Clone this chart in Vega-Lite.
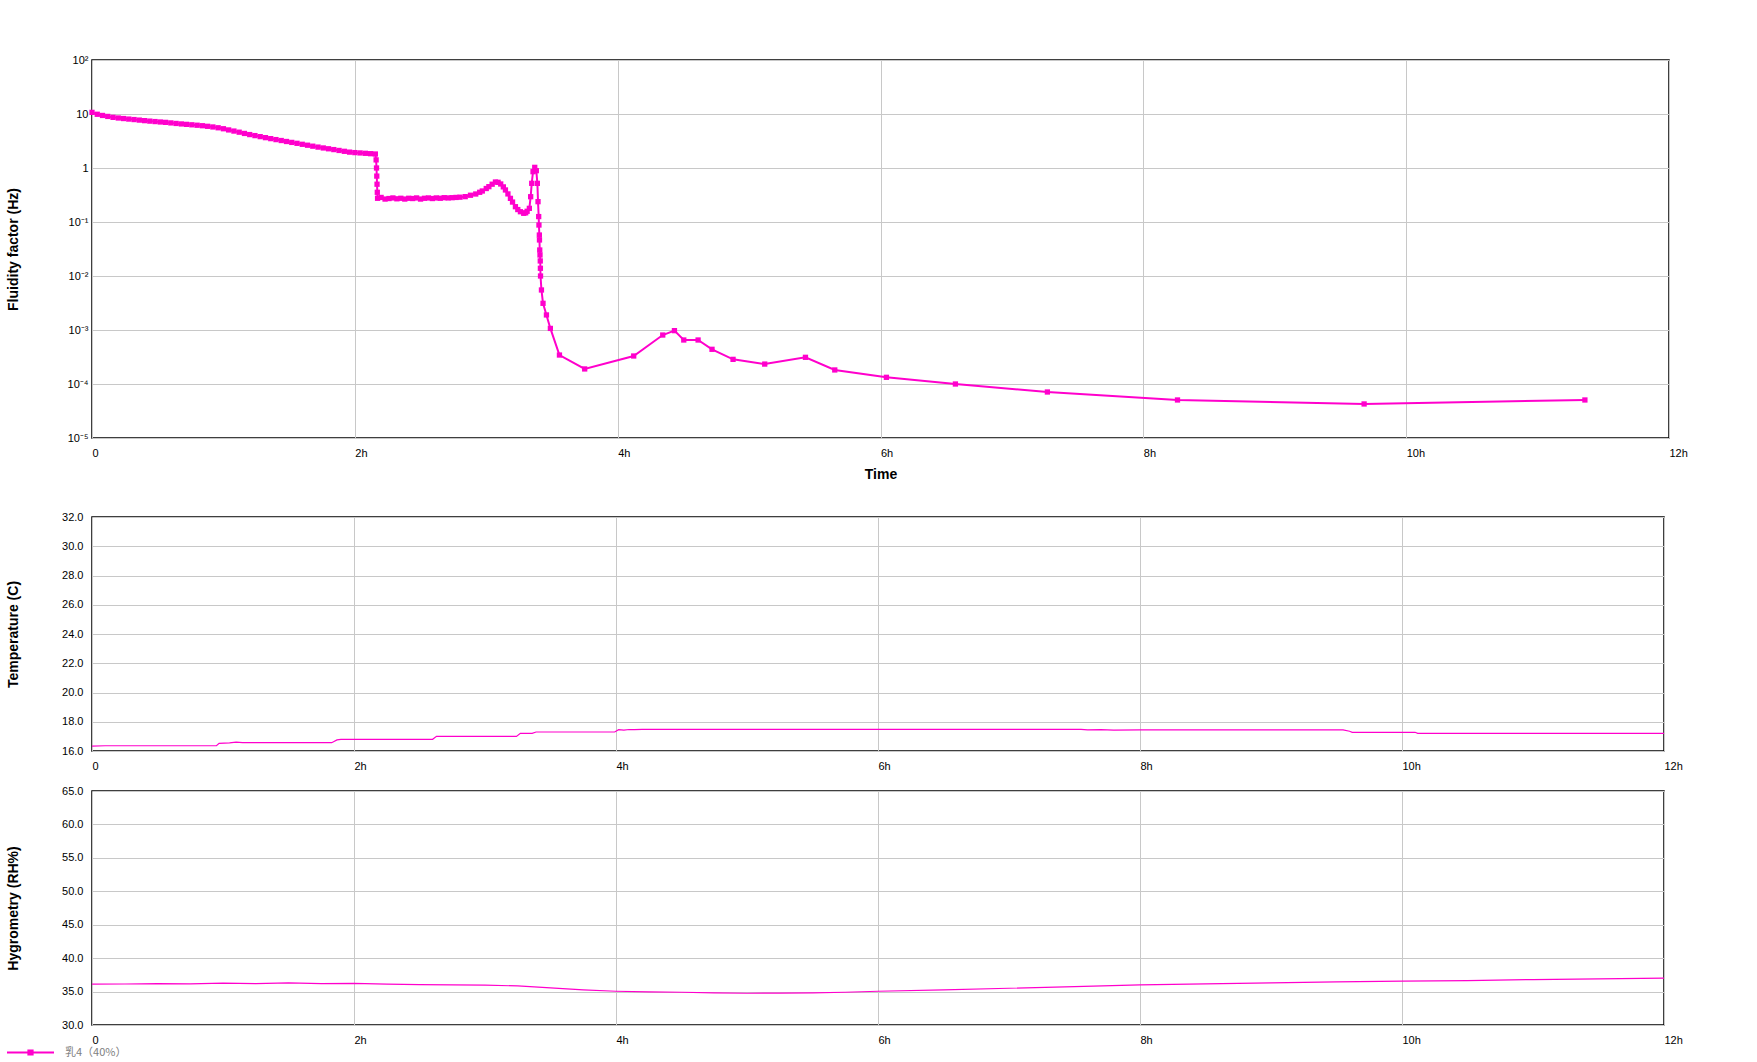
{
  "$schema": "https://vega.github.io/schema/vega-lite/v6.json",
  "padding": {"left": 5, "top": 53, "right": 5, "bottom": 5},
  "background": "white",
  "config": {
    "view": {"stroke": "#000000", "strokeWidth": 1.5},
    "axis": {
      "labelFont": "Liberation Sans", "labelFontSize": 11, "labelColor": "#000000",
      "titleFont": "Liberation Sans", "titleFontSize": 14, "titleFontWeight": "bold", "titleColor": "#000000",
      "gridColor": "#c8c8c8", "gridWidth": 1, "gridOpacity": 1,
      "ticks": false, "domain": false, "labelFlush": false, "labelOverlap": false
    }
  },
  "datasets": {
    "fluid": [
      {"t":0,"v":10.72},{"t":0.04,"v":9.886},{"t":0.08,"v":9.397},{"t":0.12,"v":9.016},{"t":0.16,"v":8.670},{"t":0.20,"v":8.433},{"t":0.24,"v":8.241},{"t":0.28,"v":8.054},{"t":0.32,"v":7.889},{"t":0.36,"v":7.709},{"t":0.40,"v":7.534},{"t":0.44,"v":7.379},{"t":0.48,"v":7.244},{"t":0.52,"v":7.112},{"t":0.56,"v":6.998},{"t":0.60,"v":6.839},{"t":0.64,"v":6.683},{"t":0.68,"v":6.546},{"t":0.72,"v":6.427},{"t":0.76,"v":6.310},{"t":0.80,"v":6.194},{"t":0.84,"v":6.067},{"t":0.88,"v":5.916},{"t":0.92,"v":5.754},{"t":0.96,"v":5.559},{"t":1.00,"v":5.333},{"t":1.04,"v":5.070},{"t":1.08,"v":4.831},{"t":1.12,"v":4.603},{"t":1.16,"v":4.365},{"t":1.20,"v":4.159},{"t":1.24,"v":3.981},{"t":1.28,"v":3.811},{"t":1.32,"v":3.648},{"t":1.36,"v":3.499},{"t":1.40,"v":3.357},{"t":1.44,"v":3.228},{"t":1.48,"v":3.097},{"t":1.52,"v":2.979},{"t":1.56,"v":2.864},{"t":1.60,"v":2.748},{"t":1.64,"v":2.642},{"t":1.68,"v":2.535},{"t":1.72,"v":2.438},{"t":1.76,"v":2.350},{"t":1.80,"v":2.270},{"t":1.84,"v":2.193},{"t":1.88,"v":2.113},{"t":1.92,"v":2.037},{"t":1.96,"v":1.968},{"t":2.00,"v":1.928},{"t":2.04,"v":1.901},{"t":2.08,"v":1.871},{"t":2.12,"v":1.841},{"t":2.156,"v":1.816},
      {"t":2.162,"v":1.413},{"t":2.165,"v":1.0},{"t":2.167,"v":0.708},{"t":2.169,"v":0.501},{"t":2.171,"v":0.355},{"t":2.173,"v":0.275},
      {"t":2.20,"v":0.285},{"t":2.23,"v":0.266},{"t":2.26,"v":0.272},{"t":2.29,"v":0.279},{"t":2.32,"v":0.269},{"t":2.35,"v":0.275},{"t":2.38,"v":0.266},{"t":2.41,"v":0.275},{"t":2.44,"v":0.272},{"t":2.47,"v":0.279},{"t":2.50,"v":0.266},{"t":2.53,"v":0.275},{"t":2.56,"v":0.279},{"t":2.59,"v":0.272},{"t":2.62,"v":0.279},{"t":2.65,"v":0.275},{"t":2.68,"v":0.282},{"t":2.71,"v":0.279},{"t":2.74,"v":0.282},{"t":2.77,"v":0.285},{"t":2.80,"v":0.288},{"t":2.84,"v":0.295},{"t":2.88,"v":0.313},{"t":2.92,"v":0.330},{"t":2.95,"v":0.355},{"t":2.97,"v":0.375},{"t":3.00,"v":0.417},{"t":3.02,"v":0.451},{"t":3.045,"v":0.501},{"t":3.07,"v":0.550},{"t":3.09,"v":0.543},{"t":3.11,"v":0.506},{"t":3.13,"v":0.447},{"t":3.146,"v":0.392},{"t":3.165,"v":0.331},{"t":3.184,"v":0.274},{"t":3.20,"v":0.234},{"t":3.222,"v":0.192},{"t":3.24,"v":0.170},{"t":3.26,"v":0.155},{"t":3.285,"v":0.145},{"t":3.30,"v":0.148},{"t":3.311,"v":0.158},{"t":3.328,"v":0.179},{"t":3.338,"v":0.294},{"t":3.346,"v":0.520},{"t":3.356,"v":0.855},{"t":3.369,"v":1.028},{"t":3.381,"v":0.893},{"t":3.389,"v":0.520},{"t":3.394,"v":0.238},{"t":3.399,"v":0.126},{"t":3.401,"v":0.0879},{"t":3.404,"v":0.0574},{"t":3.405,"v":0.0465},{"t":3.407,"v":0.0303},{"t":3.409,"v":0.0245},{"t":3.411,"v":0.0190},{"t":3.412,"v":0.0139},{"t":3.413,"v":0.01},{"t":3.42,"v":0.00551},{"t":3.432,"v":0.00312},{"t":3.458,"v":0.0019},{"t":3.488,"v":0.00107},{"t":3.557,"v":0.000344},{"t":3.749,"v":0.00019},{"t":4.122,"v":0.00033},{"t":4.343,"v":0.000807},{"t":4.432,"v":0.000973},{"t":4.503,"v":0.000653},{"t":4.612,"v":0.000653},{"t":4.718,"v":0.000439},{"t":4.878,"v":0.000286},{"t":5.119,"v":0.000234},{"t":5.429,"v":0.000312},{"t":5.652,"v":0.000182},{"t":6.045,"v":0.000133},{"t":6.57,"v":0.0001},{"t":7.27,"v":0.0000711},{"t":8.26,"v":0.0000506},{"t":9.68,"v":0.0000427},{"t":11.36,"v":0.0000506}
    ],
    "temp": [
      {"t":0,"v":16.33},{"t":0.1,"v":16.36},{"t":0.3,"v":16.36},{"t":0.5,"v":16.36},{"t":0.7,"v":16.36},{"t":0.95,"v":16.36},{"t":0.97,"v":16.52},{"t":1.05,"v":16.55},{"t":1.1,"v":16.6},{"t":1.15,"v":16.57},{"t":1.4,"v":16.57},{"t":1.6,"v":16.57},{"t":1.83,"v":16.57},{"t":1.87,"v":16.76},{"t":1.9,"v":16.8},{"t":2.2,"v":16.8},{"t":2.4,"v":16.8},{"t":2.6,"v":16.8},{"t":2.63,"v":17.0},{"t":2.9,"v":17.0},{"t":3.1,"v":17.0},{"t":3.24,"v":17.0},{"t":3.27,"v":17.21},{"t":3.36,"v":17.21},{"t":3.39,"v":17.3},{"t":3.7,"v":17.3},{"t":3.99,"v":17.3},{"t":4.02,"v":17.46},{"t":4.06,"v":17.43},{"t":4.1,"v":17.47},{"t":4.14,"v":17.46},{"t":4.2,"v":17.48},{"t":5,"v":17.48},{"t":6,"v":17.48},{"t":7,"v":17.48},{"t":7.55,"v":17.48},{"t":7.6,"v":17.44},{"t":7.7,"v":17.46},{"t":7.8,"v":17.43},{"t":8,"v":17.44},{"t":9,"v":17.44},{"t":9.55,"v":17.44},{"t":9.6,"v":17.35},{"t":9.62,"v":17.28},{"t":10.1,"v":17.28},{"t":10.12,"v":17.21},{"t":11,"v":17.21},{"t":12,"v":17.21}
    ],
    "hygro": [
      {"t":0,"v":36.1},{"t":0.25,"v":36.13},{"t":0.5,"v":36.2},{"t":0.75,"v":36.15},{"t":1.0,"v":36.25},{"t":1.25,"v":36.2},{"t":1.5,"v":36.3},{"t":1.75,"v":36.2},{"t":2.0,"v":36.22},{"t":2.25,"v":36.1},{"t":2.5,"v":36.05},{"t":2.75,"v":36.0},{"t":3.0,"v":35.95},{"t":3.25,"v":35.85},{"t":3.5,"v":35.55},{"t":3.75,"v":35.25},{"t":4.0,"v":35.05},{"t":4.25,"v":34.95},{"t":4.5,"v":34.9},{"t":4.75,"v":34.8},{"t":5.0,"v":34.75},{"t":5.25,"v":34.78},{"t":5.5,"v":34.8},{"t":5.75,"v":34.9},{"t":6.0,"v":35.05},{"t":6.5,"v":35.25},{"t":7.0,"v":35.5},{"t":7.5,"v":35.75},{"t":8.0,"v":36.0},{"t":8.5,"v":36.15},{"t":9.0,"v":36.3},{"t":9.5,"v":36.45},{"t":10.0,"v":36.55},{"t":10.5,"v":36.65},{"t":11.0,"v":36.8},{"t":11.5,"v":36.9},{"t":12.0,"v":37.0}
    ]
  },
  "spacing": 28,
  "resolve": {"scale": {"color": "independent"}, "legend": {"color": "independent"}},
  "vconcat": [
    {
      "width": 1577,
      "height": 378,
      "data": {"name": "fluid"},
      "mark": {"type": "line", "color": "#ff00cc", "strokeWidth": 2, "point": {"shape": "square", "size": 28, "filled": true, "color": "#ff00cc"}},
      "encoding": {
        "x": {"field": "t", "type": "quantitative", "scale": {"domain": [0, 12], "nice": false},
          "axis": {"values": [0, 2, 4, 6, 8, 10, 12], "labelExpr": "datum.value == 0 ? '0' : datum.value + 'h'", "labelAlign": "left", "labelBaseline": "top", "labelPadding": 9, "title": "Time", "titlePadding": 9}},
        "y": {"field": "v", "type": "quantitative", "scale": {"type": "log", "domain": [0.00001, 100], "nice": false},
          "axis": {"values": [0.00001, 0.0001, 0.001, 0.01, 0.1, 1, 10, 100],
            "labelExpr": "datum.value >= 99 ? '10²' : datum.value >= 9.9 ? '10' : datum.value >= 0.99 ? '1' : datum.value >= 0.099 ? '10⁻¹' : datum.value >= 0.0099 ? '10⁻²' : datum.value >= 0.00099 ? '10⁻³' : datum.value >= 0.000099 ? '10⁻⁴' : '10⁻⁵'",
            "labelPadding": 4, "title": "Fluidity factor (Hz)", "titleX": -79, "titleY": 189, "titleAngle": 270, "titleAlign": "center", "titleBaseline": "middle"}}
      }
    },
    {
      "spacing": 40,
      "bounds": "flush",
      "resolve": {"scale": {"color": "independent"}, "legend": {"color": "independent"}},
      "vconcat": [
        {
          "width": 1572,
          "height": 234,
          "data": {"name": "temp"},
          "mark": {"type": "line", "color": "#ff00cc", "strokeWidth": 1.2},
          "encoding": {
            "x": {"field": "t", "type": "quantitative", "scale": {"domain": [0, 12], "nice": false},
              "axis": {"values": [0, 2, 4, 6, 8, 10, 12], "labelExpr": "datum.value == 0 ? '0' : datum.value + 'h'", "labelAlign": "left", "labelBaseline": "top", "labelPadding": 9, "title": null}},
            "y": {"field": "v", "type": "quantitative", "scale": {"domain": [16, 32], "nice": false, "zero": false},
              "axis": {"values": [16, 18, 20, 22, 24, 26, 28, 30, 32], "format": ".1f", "labelPadding": 9, "title": "Temperature (C)", "titleX": -79, "titleY": 117, "titleAngle": 270, "titleAlign": "center", "titleBaseline": "middle"}}
          }
        },
        {
          "width": 1572,
          "height": 234,
          "data": {"name": "hygro"},
          "mark": {"type": "line", "strokeWidth": 1.2},
          "encoding": {
            "x": {"field": "t", "type": "quantitative", "scale": {"domain": [0, 12], "nice": false},
              "axis": {"values": [0, 2, 4, 6, 8, 10, 12], "labelExpr": "datum.value == 0 ? '0' : datum.value + 'h'", "labelAlign": "left", "labelBaseline": "top", "labelPadding": 9, "title": null}},
            "y": {"field": "v", "type": "quantitative", "scale": {"domain": [30, 65], "nice": false, "zero": false},
              "axis": {"values": [30, 35, 40, 45, 50, 55, 60, 65], "format": ".1f", "labelPadding": 9, "title": "Hygrometry (RH%)", "titleX": -79, "titleY": 117, "titleAngle": 270, "titleAlign": "center", "titleBaseline": "middle"}},
            "color": {"datum": "乳4（40%）", "type": "nominal", "scale": {"range": ["#ff00cc"]},
              "legend": {"orient": "none", "legendX": -86, "legendY": 237, "title": null,
                "symbolType": "M-1,0H1M-0.09,-0.09H0.09V0.09H-0.09Z", "symbolSize": 2209, "symbolStrokeWidth": 2,
                "symbolStrokeColor": "#ff00cc", "symbolFillColor": "#ff00cc",
                "labelFont": "Noto Sans CJK SC", "labelFontSize": 11, "labelColor": "#808080", "labelOffset": 10}}
          }
        }
      ]
    }
  ]
}
